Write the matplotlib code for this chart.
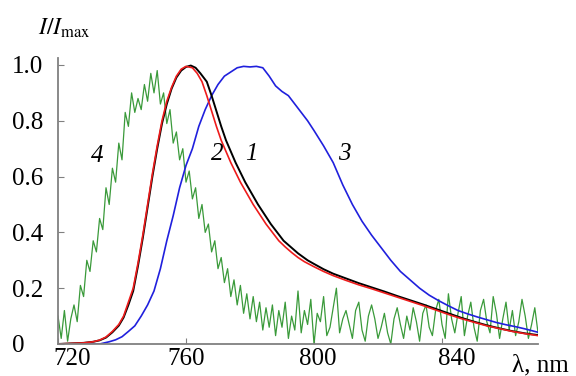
import matplotlib.pyplot as plt
from matplotlib.transforms import ScaledTranslation

plt.rcParams['font.family'] = ['Liberation Serif', 'DejaVu Serif']
plt.rcParams['mathtext.fontset'] = 'stix'

# curve 1 (black)
wl1 = [720, 724, 728, 731, 733, 735, 737, 739, 740.5, 742, 743.5, 745, 746.5, 748,
       749.5, 751, 752.5, 754, 755.5, 757, 758.5, 760, 761.5, 763, 764.5, 766.5,
       768, 769.5, 771, 772.5, 774, 775.5, 777, 778.5, 780.5, 782.5, 784.5, 786.5,
       788.5, 790.5, 792.5, 795, 798, 800, 803, 806, 810, 814, 818, 822, 826, 830,
       834, 838, 842, 846, 850, 854, 858, 862, 866, 870]
int1 = [0.0, 0.002, 0.004, 0.008, 0.013, 0.023, 0.042, 0.066, 0.095, 0.14, 0.19, 0.28,
        0.38, 0.49, 0.6, 0.7, 0.79, 0.86, 0.915, 0.955, 0.98, 0.993, 0.998, 0.99, 0.97,
        0.94, 0.89, 0.835, 0.78, 0.73, 0.69, 0.65, 0.615, 0.58, 0.54, 0.5, 0.465, 0.43,
        0.4, 0.37, 0.35, 0.325, 0.3, 0.287, 0.268, 0.252, 0.235, 0.218, 0.203, 0.188,
        0.172, 0.157, 0.142, 0.126, 0.11, 0.094, 0.08, 0.067, 0.056, 0.046, 0.038, 0.032]

# curve 2 (red)
wl2 = [720, 724, 728, 731, 733, 735, 737, 739, 740.5, 742, 743.5, 745, 746.5, 748,
       749.5, 751, 752.5, 754, 755.5, 757, 758.5, 760, 762, 763.5, 765, 766.5, 768,
       769.5, 771, 772.5, 774, 775.5, 777, 779, 781, 783, 785, 787, 789, 791, 793,
       795, 797, 800, 803, 806, 810, 814, 818, 822, 826, 830, 834, 838, 842, 846,
       850, 854, 858, 862, 866, 870]
int2 = [0.0, 0.002, 0.004, 0.008, 0.014, 0.025, 0.045, 0.07, 0.1, 0.15, 0.2, 0.29, 0.39,
        0.5, 0.61, 0.71, 0.8, 0.87, 0.92, 0.96, 0.985, 0.995, 0.99, 0.97, 0.94, 0.89,
        0.835, 0.78, 0.73, 0.69, 0.65, 0.615, 0.58, 0.54, 0.5, 0.465, 0.43, 0.4, 0.37,
        0.348, 0.328, 0.31, 0.295, 0.277, 0.26, 0.245, 0.228, 0.212, 0.198, 0.183,
        0.168, 0.153, 0.138, 0.122, 0.106, 0.091, 0.078, 0.065, 0.055, 0.045, 0.037, 0.03]

# curve 3 (blue)
wl3 = [720, 733, 736, 738, 740, 742, 744, 746, 748, 750, 752, 754, 756, 758, 760, 762,
       764, 766, 768, 770, 772, 774, 776, 778, 780, 782, 784, 786, 788, 790, 792, 794,
       796, 798, 800, 803, 806, 809, 812, 815, 818, 821, 824, 827, 830, 833, 836, 839,
       842, 845, 848, 851, 854, 857, 860, 863, 866, 869, 870]
int3 = [0.0, 0.0, 0.008, 0.015, 0.026, 0.045, 0.065, 0.1, 0.14, 0.19, 0.27, 0.37, 0.46,
        0.56, 0.64, 0.7, 0.78, 0.84, 0.89, 0.93, 0.96, 0.975, 0.99, 0.995, 0.993, 0.995,
        0.99, 0.96, 0.925, 0.905, 0.89, 0.86, 0.83, 0.8, 0.765, 0.71, 0.65, 0.57, 0.5,
        0.44, 0.39, 0.345, 0.3, 0.26, 0.23, 0.2, 0.175, 0.155, 0.137, 0.12, 0.108, 0.097,
        0.087, 0.077, 0.069, 0.062, 0.054, 0.045, 0.042]

# curve 4 (green), 1 nm steps from 720 nm
wl4 = list(range(720, 871))
int4 = [0.10, 0.02, 0.12, 0.01, 0.09, 0.14, 0.08, 0.21, 0.17, 0.30,
        0.26, 0.37, 0.33, 0.45, 0.41, 0.56, 0.50, 0.63, 0.58, 0.72,
        0.66, 0.83, 0.78, 0.90, 0.83, 0.88, 0.84, 0.93, 0.87, 0.97,
        0.90, 0.98, 0.86, 0.90, 0.79, 0.84, 0.72, 0.76, 0.66, 0.70,
        0.58, 0.62, 0.52, 0.56, 0.45, 0.50, 0.40, 0.43, 0.33, 0.37,
        0.27, 0.31, 0.22, 0.27, 0.17, 0.23, 0.14, 0.21, 0.11, 0.18,
        0.09, 0.17, 0.08, 0.15, 0.05, 0.13, 0.06, 0.14, 0.03, 0.12,
        0.06, 0.15, 0.02, 0.10, 0.05, 0.19, 0.04, 0.12, 0.07, 0.16,
        0.00, 0.11, 0.08, 0.17, 0.03, 0.06, 0.13, 0.20, 0.04, 0.09,
        0.12, 0.07, 0.02, 0.12, 0.15, 0.05, 0.01, 0.10, 0.14, 0.09,
        0.02, 0.06, 0.11, 0.04, 0.00, 0.09, 0.13, 0.07, 0.02, 0.10,
        0.05, 0.13, 0.08, 0.01, 0.11, 0.14, 0.06, 0.03, 0.12, 0.16,
        0.07, 0.02, 0.18, 0.09, 0.04, 0.11, 0.17, 0.03, 0.10, 0.15,
        0.06, 0.01, 0.12, 0.16, 0.08, 0.04, 0.17, 0.11, 0.02, 0.09,
        0.15, 0.05, 0.12, 0.03, 0.08, 0.16, 0.10, 0.02, 0.07, 0.13,
        0.04]

xticks = [720, 760, 800, 840]
yticks = [0, 0.2, 0.4, 0.6, 0.8, 1.0]
ylabels = ['0', '0.2', '0.4', '0.6', '0.8', '1.0']

fig = plt.figure(figsize=(5.76, 3.76), dpi=100)
ax = fig.add_axes([58 / 576, 1 - 344 / 376, 480 / 576, 286 / 376])

ax.plot(wl4, int4, color='#3a9a3a', lw=0.9)
ax.plot(wl3, int3, color='#2020dd', lw=1.2)
ax.plot(wl1, int1, color='black', lw=1.4)
ax.plot(wl2, int2, color='#ee1c1c', lw=1.2)

ax.set_xlim(720, 870)
ax.set_ylim(0, 1.025)
for s in ['top', 'right']:
    ax.spines[s].set_visible(False)
for s in ['left', 'bottom']:
    ax.spines[s].set_color('#808080')
    ax.spines[s].set_linewidth(1.3)

ax.set_xticks(xticks)
ax.set_xticklabels([str(t) for t in xticks])
ax.set_yticks(yticks)
ax.set_yticklabels(ylabels)
ax.tick_params(direction='in', length=4, color='#808080', labelsize=18)
ax.tick_params(axis='x', pad=3)
ax.tick_params(axis='y', pad=33)
for lab in ax.get_yticklabels():
    lab.set_horizontalalignment('left')
for lab, dx in zip(ax.get_xticklabels(), [14, 0, 4, 15]):
    lab.set_transform(lab.get_transform() + ScaledTranslation(dx / 100, 0, fig.dpi_scale_trans))

# curve numbers
ax.text(732.3, 0.675, '4', fontsize=18, style='italic', ha='center', va='center')
ax.text(769.8, 0.68, '2', fontsize=18, style='italic', ha='center', va='center')
ax.text(780.3, 0.68, '1', fontsize=18, style='italic', ha='center', va='center')
ax.text(809.4, 0.68, '3', fontsize=18, style='italic', ha='center', va='center')

fig.text(38 / 576, 1 - 35 / 376, r'$I/I_{\mathrm{max}}$', fontsize=17, ha='left', va='baseline')
fig.text(512 / 576, 1 - 371 / 376, 'λ, nm', fontsize=18, ha='left', va='baseline')

fig.savefig('out.png', dpi=100)
